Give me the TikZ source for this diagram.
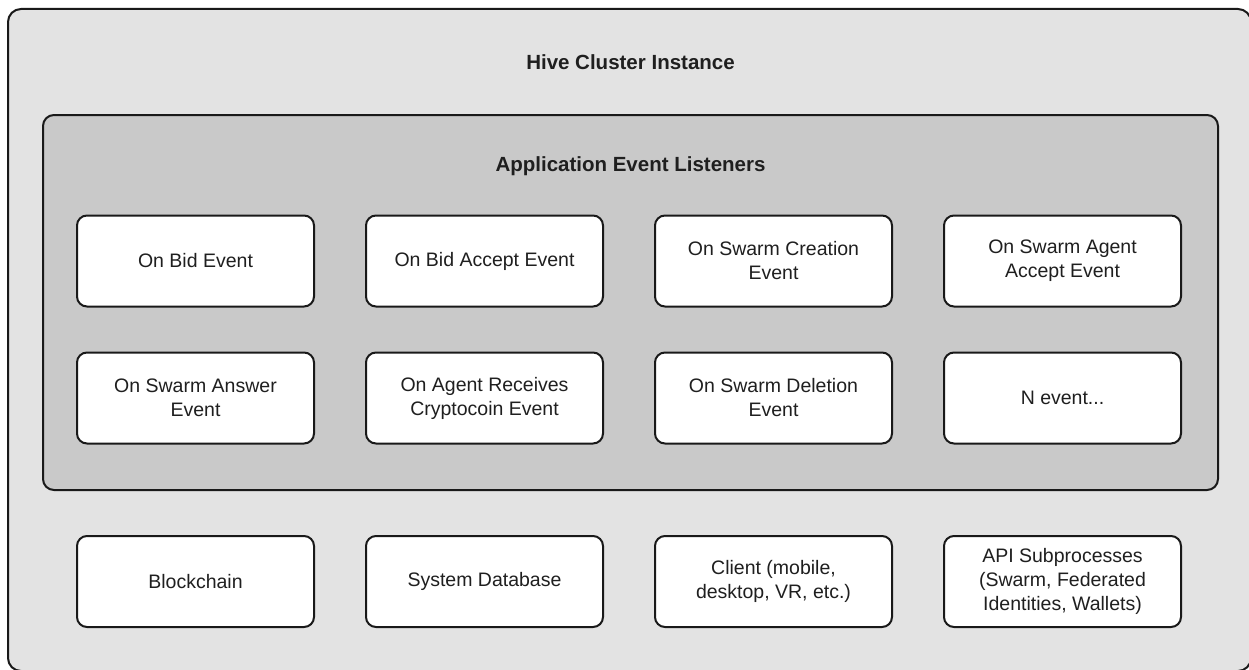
\documentclass[tikz,border=0pt]{standalone}
\usepackage{fontspec}
\setmainfont{Liberation Sans}
\begin{document}
\begin{tikzpicture}[x=1pt,y=-1pt,
  every node/.style={font=\fontsize{19.5}{24}\selectfont, text=black!88},
  evbox/.style={draw=black!90, line width=2pt, rounded corners=10pt, fill=white,
    minimum width=237pt, minimum height=91pt, align=center, inner sep=0pt},
  titletext/.style={font=\fontsize{20.5}{24}\selectfont\bfseries, anchor=base}]
\useasboundingbox (0,0) rectangle (1249,669);
\clip (0,0) rectangle (1249,669);
\fill[white] (0,0) rectangle (1249,669);
% outer container
\draw[line width=2pt, rounded corners=13pt, fill=black!11, draw=black!90] (8,9) rectangle (1251,671);
\node[titletext] (hive) at (630.5,70) {Hive Cluster Instance};
% inner container
\draw[line width=2pt, rounded corners=11pt, fill=black!21, draw=black!90] (43,115) rectangle (1218,490);
\node[titletext] (app) at (630.5,171) {Application Event Listeners};
% row 1
\node[evbox] (bid)    at (195.5,261) {On Bid Event};
\node[evbox] (bidacc) at (484.5,261) {On Bid Accept Event};
\node[evbox] (swcr)   at (773.5,261) {On Swarm Creation\\Event};
\node[evbox] (swag)   at (1062.5,261) {On Swarm Agent\\Accept Event};
% row 2
\node[evbox] (swans)  at (195.5,398) {On Swarm Answer\\Event};
\node[evbox] (agrec)  at (484.5,398) {On Agent Receives\\Cryptocoin Event};
\node[evbox] (swdel)  at (773.5,398) {On Swarm Deletion\\Event};
\node[evbox] (nev)    at (1062.5,398) {N event...};
% row 3
\node[evbox] (chain)  at (195.5,581.5) {Blockchain};
\node[evbox] (db)     at (484.5,581.5) {System Database};
\node[evbox] (client) at (773.5,581.5) {Client (mobile,\\desktop, VR, etc.)};
\node[evbox] (api)    at (1062.5,581.5) {API Subprocesses\\(Swarm, Federated\\Identities, Wallets)};
\end{tikzpicture}
\end{document}
